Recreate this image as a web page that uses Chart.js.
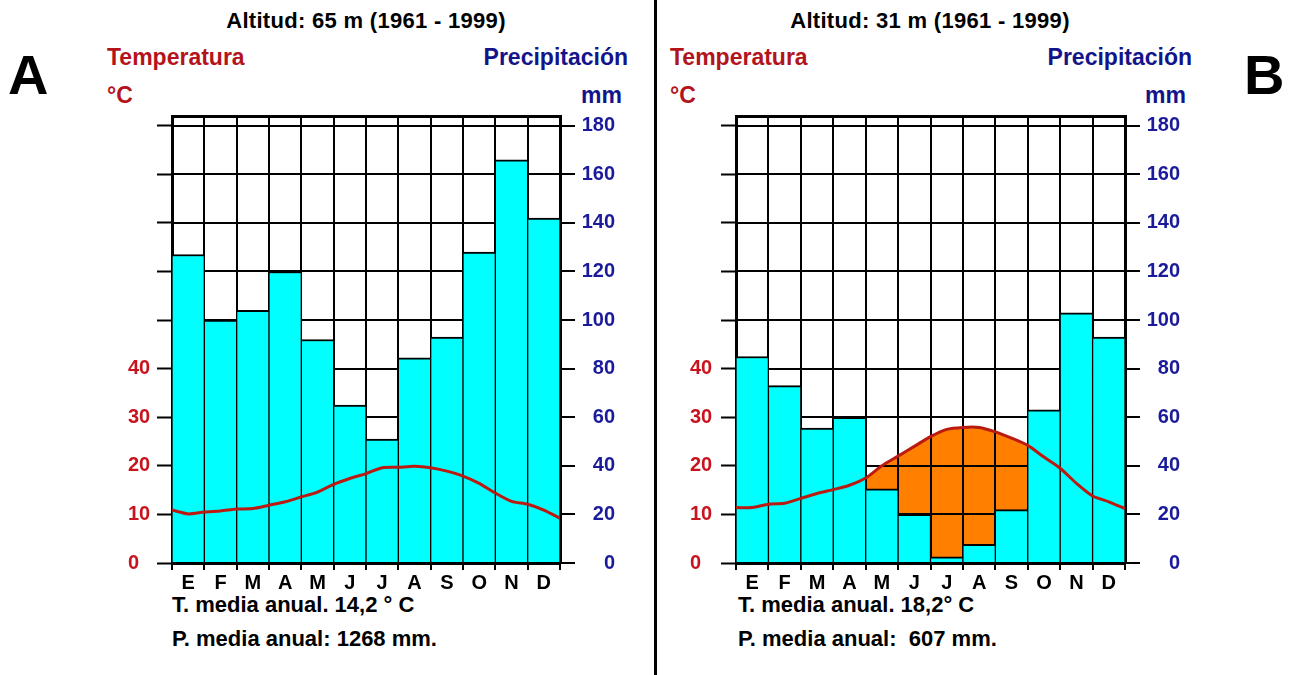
<!DOCTYPE html>
<html>
<head>
<meta charset="utf-8">
<script src="https://cdn.jsdelivr.net/npm/chart.js@4.4.1/dist/chart.umd.min.js"></script>
<style>
	body { margin: 0; background: #fff; font-family: "Liberation Sans", Arial, sans-serif; font-weight: bold; }
	#page { position: relative; width: 1293px; height: 675px; overflow: hidden; }
	.t { position: absolute; white-space: pre; line-height: 1; }
	canvas { position: absolute; }
</style>
</head>
<body>
<div id="page">
	<div class="t" style="left:8px;top:47px;font-size:56px;">A</div>
	<div class="t" style="left:1244px;top:47px;font-size:56px;">B</div>
	<div style="position:absolute;left:654px;top:0;width:3px;height:675px;background:#000;"></div>

	<div class="t" style="left:166px;width:400px;text-align:center;top:10px;font-size:22px;letter-spacing:0.3px;">Altitud: 65 m (1961 - 1999)</div>
	<div class="t" style="left:107px;top:46px;font-size:23px;color:#b3141c;">Temperatura</div>
	<div class="t" style="left:107px;top:84px;font-size:23px;color:#b3141c;">°C</div>
	<div class="t" style="right:665px;top:46px;font-size:23px;color:#14148a;">Precipitación</div>
	<div class="t" style="right:671px;top:84px;font-size:23px;color:#14148a;">mm</div>
	<div class="t" style="left:172px;top:594px;font-size:22px;">T. media anual. 14,2 ° C</div>
	<div class="t" style="left:172px;top:628px;font-size:22px;">P. media anual: 1268 mm.</div>

	<div class="t" style="left:730px;width:400px;text-align:center;top:10px;font-size:22px;letter-spacing:0.3px;">Altitud: 31 m (1961 - 1999)</div>
	<div class="t" style="left:670px;top:46px;font-size:23px;color:#b3141c;">Temperatura</div>
	<div class="t" style="left:670px;top:84px;font-size:23px;color:#b3141c;">°C</div>
	<div class="t" style="right:101px;top:46px;font-size:23px;color:#14148a;">Precipitación</div>
	<div class="t" style="right:107px;top:84px;font-size:23px;color:#14148a;">mm</div>
	<div class="t" style="left:738px;top:594px;font-size:22px;">T. media anual. 18,2° C</div>
	<div class="t" style="left:738px;top:628px;font-size:22px;">P. media anual:  607 mm.</div>

	<canvas id="chart-a" width="487" height="493" style="left:128px;top:100px;"></canvas>
	<canvas id="chart-b" width="490" height="493" style="left:690px;top:100px;"></canvas>
</div>
<script>
const months = ["E", "F", "M", "A", "M", "J", "J", "A", "S", "O", "N", "D"];

// precipitación mensual (mm)
const precipA = [127, 100, 104, 120, 92, 65, 51, 84.5, 93, 128, 166, 142];
const precipB = [85, 73, 55.5, 60, 30.5, 20, 2.5, 7.7, 22, 63, 103, 93];

const curveX = [0, 0.5, 1, 1.5, 2, 2.5, 3, 3.5, 4, 4.5, 5, 5.5, 6, 6.5, 7, 7.5, 8, 8.5, 9, 9.5, 10, 10.5, 11, 11.5, 12];
const tempA = [10.9, 10.1, 10.5, 10.7, 11.1, 11.2, 11.9, 12.6, 13.6, 14.6, 16.2, 17.4, 18.4, 19.6, 19.7, 19.9, 19.6, 18.9, 17.9, 16.4, 14.4, 12.7, 12.1, 10.9, 9.2];
const tempB = [11.4, 11.4, 12.1, 12.3, 13.3, 14.3, 15.1, 16, 17.5, 20, 22, 24, 26, 27.5, 27.9, 27.9, 27, 25.7, 24.2, 21.8, 19.5, 16.4, 13.8, 12.6, 11.2];

const precipMax = 184;
const tempMax = 92;

const tickFont = { family: "Liberation Sans", size: 20, weight: "bold" };

function drawClimograph(id, precip, temp, leftWidth) {
	const ctx = document.getElementById(id).getContext("2d");
	new Chart(ctx, {
		type: "bar",
		data: {
			labels: months,
			datasets: [
				{
					type: "line",
					data: curveX.map((x, i) => ({ x: x, y: temp[i] })),
					xAxisID: "xl",
					yAxisID: "yT",
					borderColor: "#bb1a10",
					borderWidth: 3,
					backgroundColor: "#ff8000",
					fill: "origin",
					tension: 0.25,
					pointRadius: 0,
					order: 0,
				},
				{
					type: "bar",
					data: precip,
					xAxisID: "x",
					yAxisID: "y",
					backgroundColor: "#00ffff",
					borderColor: "#000",
					borderWidth: { top: 2, left: 1, right: 1, bottom: 0 },
					borderSkipped: false,
					grouped: false,
					barPercentage: 1,
					categoryPercentage: 1,
					order: 1,
				},
			],
		},
		options: {
			responsive: false,
			animation: false,
			layout: { padding: { top: 16, left: 0, right: 0, bottom: 0 } },
			plugins: {
				legend: { display: false },
				tooltip: { enabled: false },
				filler: { drawTime: "beforeDraw" },
			},
			scales: {
				x: {
					type: "category",
					position: "bottom",
					offset: true,
					grid: { color: "#000", lineWidth: 2, offset: true, tickLength: 7 },
					border: { color: "#000", width: 3 },
					ticks: { color: "#000", font: { family: "Liberation Sans", size: 20, weight: "bold" }, padding: 1, maxRotation: 0, autoSkip: false },
					afterFit: scale => { scale.height = 30; },
				},
				xl: {
					type: "linear",
					position: "top",
					min: 0,
					max: 12,
					offset: false,
					ticks: { display: false },
					grid: { display: false, drawTicks: false, offset: false },
					border: { color: "#000", width: 3 },
					afterFit: scale => { scale.height = 0; },
				},
				y: {
					type: "linear",
					position: "right",
					min: 0,
					max: precipMax,
					ticks: {
						stepSize: 10,
						includeBounds: false,
						color: "#1a1a9a",
						font: tickFont,
						crossAlign: "far",
						callback: v => (v % 20 === 0 ? v : ""),
					},
					grid: {
						color: c => (c.tick && c.tick.value % 20 === 0 ? "#000" : "rgba(0,0,0,0)"),
						lineWidth: 2,
						tickColor: "#000",
						tickWidth: 2,
						tickLength: 15,
						tickBorderDash: c => (c.tick && c.tick.value % 20 === 0 ? [] : [10, 30]),
					},
					border: { color: "#000", width: 3 },
					afterFit: scale => { scale.width = 55; },
				},
				yT: {
					type: "linear",
					position: "left",
					min: 0,
					max: tempMax,
					ticks: {
						stepSize: 5,
						includeBounds: false,
						color: "#c8141e",
						font: tickFont,
						crossAlign: "far",
						callback: v => (v % 10 === 0 && v <= 40 ? v : ""),
					},
					grid: {
						drawOnChartArea: false,
						tickColor: "#000",
						tickWidth: 2,
						tickLength: 15,
						tickBorderDash: c => (c.tick && c.tick.value % 10 === 0 ? [] : [0, 5, 10, 30]),
					},
					border: { color: "#000", width: 3 },
					afterFit: scale => { scale.width = leftWidth; },
				},
			},
		},
	});
}

drawClimograph("chart-a", precipA, tempA, 44);
drawClimograph("chart-b", precipB, tempB, 46);
</script>
</body>
</html>
